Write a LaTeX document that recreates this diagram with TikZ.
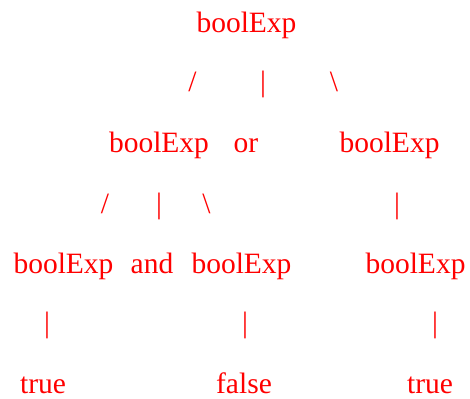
\documentclass[tikz,border=0pt]{standalone}
\usepackage{fontspec}
\setmainfont{Liberation Serif}
\begin{document}
\begin{tikzpicture}[x=1pt,y=-1pt,
  lbl/.style={text=red,font=\fontsize{29.5}{32}\selectfont,anchor=base,inner sep=0pt,outer sep=0pt}]
\useasboundingbox (0,0) rectangle (470,398);
% row 1
\node[lbl] (root) at (246.5,33) {boolExp};
% row 2
\node[lbl] (s1) at (192.5,92) {/};
\node[lbl] (b1) at (263,92) {|};
\node[lbl] (k1) at (334,92) {\textbackslash};
% row 3
\node[lbl] (l) at (159,153) {boolExp};
\node[lbl] (or) at (246,153) {or};
\node[lbl] (r) at (389.5,153) {boolExp};
% row 4
\node[lbl] (s2) at (105,213) {/};
\node[lbl] (b2) at (159,213) {|};
\node[lbl] (k2) at (206.5,213) {\textbackslash};
\node[lbl] (b3) at (397,213) {|};
% row 5
\node[lbl] (ll) at (63.5,273) {boolExp};
\node[lbl] (and) at (152,273) {and};
\node[lbl] (lr) at (241.5,273) {boolExp};
\node[lbl] (rr) at (415.5,273) {boolExp};
% row 6
\node[lbl] (b4) at (47,332) {|};
\node[lbl] (b5) at (245,332) {|};
\node[lbl] (b6) at (435,332) {|};
% row 7
\node[lbl] (t1) at (43,393) {true};
\node[lbl] (f) at (244,393) {false};
\node[lbl] (t2) at (430,393) {true};
\end{tikzpicture}
\end{document}
